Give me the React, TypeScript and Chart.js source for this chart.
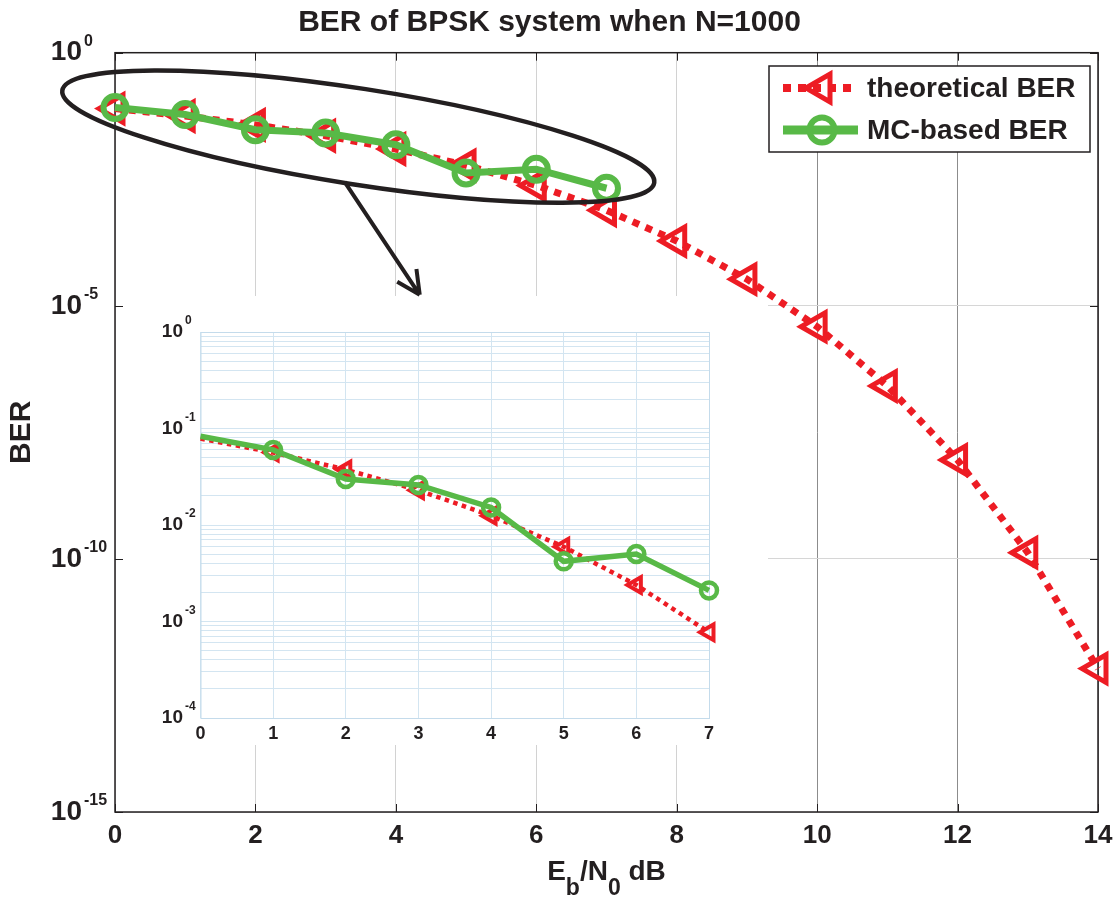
import React, { useEffect, useRef } from 'react';
import { Chart, registerables } from 'chart.js';

Chart.register(...registerables);

// ---------------- data ----------------
const ebN0 = [0, 1, 2, 3, 4, 5, 6, 7, 8, 9, 10, 11, 12, 13, 14];
const theoreticalBER = [
  0.0786, 0.0563, 0.0375, 0.0229, 0.0125, 0.00595, 0.00239, 7.73e-4,
  1.91e-4, 3.36e-5, 3.87e-6, 2.61e-7, 9.0e-9, 1.33e-10, 6.8e-13,
];
const mcEbN0 = [0, 1, 2, 3, 4, 5, 6, 7];
const mcBER = [0.083, 0.06, 0.03, 0.026, 0.0152, 0.0042, 0.005, 0.0021];

const mainXTicks = [0, 2, 4, 6, 8, 10, 12, 14];
const mainYTicks = [1, 1e-5, 1e-10, 1e-15];
const insetXTicks = [0, 1, 2, 3, 4, 5, 6, 7];
const insetYTicks = [1, 1e-1, 1e-2, 1e-3, 1e-4];

const titleText = 'BER of BPSK system when N=1000';
const yTitleText = 'BER';
const seriesLabels = ['theoretical BER', 'MC-based BER'];

// ---------------- style / layout ----------------
const FONT = "'Liberation Sans', Arial, Helvetica, sans-serif";
const INK = '#231f20';
const RED = '#ed1c24';
const GREEN = '#58b947';
const INSET_GRID = '#d3e5f1';

const W = 1119;
const H = 898;
const INSET_BOX = { left: 116, top: 296, right: 768, bottom: 745 };
const INSET_CANVAS = { left: 140, top: 296, width: 628, height: 449 };

// annotation (ellipse + arrow) in data coordinates
const ELLIPSE_END_A = { x: -0.75, y: 0.18 };
const ELLIPSE_END_B = { x: 7.68, y: 0.0027 };
const ELLIPSE_SEMI_MINOR = 48;
const ARROW_FROM = { x: 3.27, y: 0.0028 };
const ARROW_TO = { x: 4.34, y: 1.65e-5 };

function drawPow10(ctx: CanvasRenderingContext2D, value: number, xRight: number, y: number, big: number, small: number, rise: number) {
  const exp = Math.round(Math.log10(value)) || 0;
  ctx.fillStyle = INK;
  ctx.font = `bold ${big}px ${FONT}`;
  ctx.textAlign = 'right';
  ctx.textBaseline = 'middle';
  ctx.fillText('10', xRight, y);
  ctx.font = `bold ${small}px ${FONT}`;
  ctx.textAlign = 'left';
  ctx.textBaseline = 'alphabetic';
  ctx.fillText(String(exp), xRight + 2, y - rise);
}

function drawTriangleLeft(ctx: CanvasRenderingContext2D, cx: number, cy: number, r: number) {
  ctx.beginPath();
  ctx.moveTo(cx - r, cy);
  ctx.lineTo(cx + r / 2, cy - (r * Math.sqrt(3)) / 2);
  ctx.lineTo(cx + r / 2, cy + (r * Math.sqrt(3)) / 2);
  ctx.closePath();
}

const mainDecor = {
  id: 'mainDecor',
  beforeDatasetsDraw(chart: any) {
    const { ctx, chartArea: a } = chart;
    const xs = chart.scales.x;
    const ys = chart.scales.y;
    ctx.save();
    ctx.fillStyle = '#ffffff';
    ctx.fillRect(INSET_BOX.left, INSET_BOX.top, INSET_BOX.right - INSET_BOX.left, INSET_BOX.bottom - INSET_BOX.top);
    ctx.strokeStyle = INK;
    ctx.lineWidth = 1;
    ctx.beginPath();
    for (const v of mainXTicks) {
      const px = Math.round(xs.getPixelForValue(v)) + 0.5;
      ctx.moveTo(px, a.bottom);
      ctx.lineTo(px, a.bottom - 8);
      ctx.moveTo(px, a.top);
      ctx.lineTo(px, a.top + 8);
    }
    for (const v of mainYTicks) {
      const py = Math.round(ys.getPixelForValue(v)) + 0.5;
      ctx.moveTo(a.left, py);
      ctx.lineTo(a.left + 8, py);
      ctx.moveTo(a.right, py);
      ctx.lineTo(a.right - 8, py);
    }
    ctx.stroke();
    ctx.lineWidth = 1.5;
    ctx.strokeRect(a.left, a.top, a.right - a.left, a.bottom - a.top);
    ctx.restore();
  },
  afterDatasetsDraw(chart: any) {
    const { ctx } = chart;
    const xs = chart.scales.x;
    const ys = chart.scales.y;
    const p1 = { x: xs.getPixelForValue(ELLIPSE_END_A.x), y: ys.getPixelForValue(ELLIPSE_END_A.y) };
    const p2 = { x: xs.getPixelForValue(ELLIPSE_END_B.x), y: ys.getPixelForValue(ELLIPSE_END_B.y) };
    const cx = (p1.x + p2.x) / 2;
    const cy = (p1.y + p2.y) / 2;
    const semiMajor = Math.hypot(p2.x - p1.x, p2.y - p1.y) / 2;
    const rot = Math.atan2(p2.y - p1.y, p2.x - p1.x);
    ctx.save();
    ctx.strokeStyle = INK;
    ctx.lineWidth = 4.5;
    ctx.beginPath();
    ctx.ellipse(cx, cy, semiMajor, ELLIPSE_SEMI_MINOR, rot, 0, Math.PI * 2);
    ctx.stroke();
    const s = { x: xs.getPixelForValue(ARROW_FROM.x), y: ys.getPixelForValue(ARROW_FROM.y) };
    const t = { x: xs.getPixelForValue(ARROW_TO.x), y: ys.getPixelForValue(ARROW_TO.y) };
    const ang = Math.atan2(t.y - s.y, t.x - s.x);
    ctx.lineWidth = 4;
    ctx.beginPath();
    ctx.moveTo(s.x, s.y);
    ctx.lineTo(t.x, t.y);
    for (const d of [-0.46, 0.46]) {
      ctx.moveTo(t.x, t.y);
      ctx.lineTo(t.x - 26 * Math.cos(ang + d), t.y - 26 * Math.sin(ang + d));
    }
    ctx.stroke();
    ctx.restore();
  },
  afterDraw(chart: any) {
    const { ctx, chartArea: a } = chart;
    const ys = chart.scales.y;
    ctx.save();
    // y tick labels
    for (const v of mainYTicks) {
      drawPow10(ctx, v, 82, ys.getPixelForValue(v), 28, 16, 7);
    }
    // x title with subscripts
    const parts: [string, boolean][] = [['E', false], ['b', true], ['/N', false], ['0', true], [' dB', false]];
    const mainF = `bold 28px ${FONT}`;
    const subF = `bold 23px ${FONT}`;
    let total = 0;
    for (const [txt, sub] of parts) {
      ctx.font = sub ? subF : mainF;
      total += ctx.measureText(txt).width;
    }
    let x = (a.left + a.right) / 2 - total / 2;
    ctx.fillStyle = INK;
    ctx.textAlign = 'left';
    ctx.textBaseline = 'alphabetic';
    for (const [txt, sub] of parts) {
      ctx.font = sub ? subF : mainF;
      ctx.fillText(txt, x, sub ? 895 : 880);
      x += ctx.measureText(txt).width;
    }
    // legend
    const box = { left: 769, top: 66, right: 1090, bottom: 152 };
    ctx.fillStyle = '#ffffff';
    ctx.fillRect(box.left, box.top, box.right - box.left, box.bottom - box.top);
    ctx.strokeStyle = INK;
    ctx.lineWidth = 1.5;
    ctx.strokeRect(box.left, box.top, box.right - box.left, box.bottom - box.top);
    const rows = [88, 130];
    const ds = chart.data.datasets;
    // theoretical sample
    ctx.strokeStyle = RED;
    ctx.lineWidth = 8;
    ctx.setLineDash([8, 7]);
    ctx.beginPath();
    ctx.moveTo(783, rows[0]);
    ctx.lineTo(858, rows[0]);
    ctx.stroke();
    ctx.setLineDash([]);
    ctx.lineWidth = 5;
    ctx.lineJoin = 'miter';
    drawTriangleLeft(ctx, 822, rows[0], 16);
    ctx.stroke();
    // MC sample
    ctx.strokeStyle = GREEN;
    ctx.lineWidth = 9;
    ctx.beginPath();
    ctx.moveTo(783, rows[1]);
    ctx.lineTo(858, rows[1]);
    ctx.stroke();
    ctx.lineWidth = 6;
    ctx.beginPath();
    ctx.arc(822, rows[1], 12.5, 0, Math.PI * 2);
    ctx.stroke();
    ctx.fillStyle = INK;
    ctx.font = `bold 28px ${FONT}`;
    ctx.textAlign = 'left';
    ctx.textBaseline = 'middle';
    ctx.fillText(ds[0].label, 867, rows[0] + 1);
    ctx.fillText(ds[1].label, 867, rows[1] + 1);
    ctx.restore();
  },
};

const insetDecor = {
  id: 'insetDecor',
  beforeDatasetsDraw(chart: any) {
    const { ctx, chartArea: a } = chart;
    ctx.save();
    ctx.strokeStyle = '#c4dbeb';
    ctx.lineWidth = 1;
    ctx.strokeRect(a.left + 0.5, a.top + 0.5, a.right - a.left, a.bottom - a.top);
    ctx.restore();
  },
  afterDraw(chart: any) {
    const { ctx } = chart;
    const ys = chart.scales.y;
    ctx.save();
    for (const v of insetYTicks) {
      drawPow10(ctx, v, 43, ys.getPixelForValue(v), 19, 12, 8);
    }
    ctx.restore();
  },
};

function insetMinorTicks() {
  const out: number[] = [];
  for (let k = -4; k < 0; k++) {
    for (let m = 1; m <= 9; m++) out.push(Number((m * Math.pow(10, k)).toPrecision(3)));
  }
  out.push(1);
  return out;
}

export default function App() {
  const mainRef = useRef<HTMLCanvasElement>(null);
  const insetRef = useRef<HTMLCanvasElement>(null);

  useEffect(() => {
    const main = new Chart(mainRef.current as HTMLCanvasElement, {
      type: 'line',
      data: {
        datasets: [
          {
            label: seriesLabels[0],
            data: ebN0.map((x, i) => ({ x, y: theoreticalBER[i] })),
            borderColor: RED,
            borderWidth: 7,
            borderDash: [7, 7],
            pointStyle: 'triangle',
            pointRotation: -90,
            pointRadius: 16,
            pointBorderWidth: 5,
            pointBorderColor: RED,
            pointBackgroundColor: 'rgba(0,0,0,0)',
            tension: 0,
            order: 1,
            clip: false,
          } as any,
          {
            label: seriesLabels[1],
            data: mcEbN0.map((x, i) => ({ x, y: mcBER[i] })),
            borderColor: GREEN,
            borderWidth: 7,
            pointStyle: 'circle',
            pointRadius: 11.5,
            pointBorderWidth: 6,
            pointBorderColor: GREEN,
            pointBackgroundColor: 'rgba(0,0,0,0)',
            tension: 0,
            order: 0,
            clip: false,
          } as any,
        ],
      },
      options: {
        responsive: false,
        animation: false,
        devicePixelRatio: 1,
        events: [],
        layout: { padding: { left: 0, right: 20, top: 0, bottom: 0 } },
        plugins: {
          legend: { display: false },
          tooltip: { enabled: false },
          title: {
            display: true,
            text: titleText,
            color: INK,
            font: { family: FONT, size: 30, weight: 'bold', lineHeight: 1.2 },
            padding: { top: 5, bottom: 11.7 },
          },
        },
        scales: {
          x: {
            type: 'linear',
            min: 0,
            max: 14,
            afterBuildTicks: (s: any) => {
              s.ticks = mainXTicks.map((v) => ({ value: v }));
            },
            afterFit: (s: any) => {
              s.height = 86;
              s.paddingLeft = 0;
              s.paddingRight = 0;
            },
            ticks: {
              color: INK,
              font: { family: FONT, size: 26, weight: 'bold' },
              padding: 8,
              maxRotation: 0,
              autoSkip: false,
            },
            grid: {
              drawTicks: false,
              lineWidth: 1,
              color: (c: any) => (c.tick && c.tick.value >= 10 ? '#8c8c8c' : '#d2d2d2'),
            },
            border: { display: false },
          },
          y: {
            type: 'logarithmic',
            min: 1e-15,
            max: 1,
            afterBuildTicks: (s: any) => {
              s.ticks = mainYTicks.map((v) => ({ value: v }));
            },
            afterFit: (s: any) => {
              s.width = 115;
              s.paddingTop = 0;
              s.paddingBottom = 0;
            },
            ticks: { display: false },
            grid: { drawTicks: false, lineWidth: 1, color: '#d6d6d6' },
            border: { display: false },
            title: {
              display: true,
              text: yTitleText,
              color: INK,
              font: { family: FONT, size: 30, weight: 'bold', lineHeight: 1.2 },
              padding: { top: 3.5, bottom: 0 },
            },
          },
        },
      } as any,
      plugins: [mainDecor],
    });

    const inset = new Chart(insetRef.current as HTMLCanvasElement, {
      type: 'line',
      data: {
        datasets: [
          {
            label: seriesLabels[0],
            data: mcEbN0.map((x) => ({ x, y: theoreticalBER[x] })),
            borderColor: RED,
            borderWidth: 4.5,
            borderDash: [4.5, 4.5],
            pointStyle: 'triangle',
            pointRotation: -90,
            pointRadius: (c: any) => (c.dataIndex === 0 ? 0 : 9),
            pointBorderWidth: 4,
            pointBorderColor: RED,
            pointBackgroundColor: 'rgba(0,0,0,0)',
            tension: 0,
            order: 1,
            clip: false,
          } as any,
          {
            label: seriesLabels[1],
            data: mcEbN0.map((x, i) => ({ x, y: mcBER[i] })),
            borderColor: GREEN,
            borderWidth: 5.5,
            pointStyle: 'circle',
            pointRadius: (c: any) => (c.dataIndex === 0 ? 0 : 8),
            pointBorderWidth: 4.5,
            pointBorderColor: GREEN,
            pointBackgroundColor: 'rgba(0,0,0,0)',
            tension: 0,
            order: 0,
            clip: false,
          } as any,
        ],
      },
      options: {
        responsive: false,
        animation: false,
        devicePixelRatio: 1,
        events: [],
        layout: { padding: { left: 0, right: 59, top: 36, bottom: 0 } },
        plugins: { legend: { display: false }, tooltip: { enabled: false }, title: { display: false } },
        scales: {
          x: {
            type: 'linear',
            min: 0,
            max: 7,
            afterBuildTicks: (s: any) => {
              s.ticks = insetXTicks.map((v) => ({ value: v }));
            },
            afterFit: (s: any) => {
              s.height = 27;
              s.paddingLeft = 0;
              s.paddingRight = 0;
            },
            ticks: {
              color: INK,
              font: { family: FONT, size: 18, weight: 'bold' },
              padding: 5,
              maxRotation: 0,
              autoSkip: false,
            },
            grid: { drawTicks: false, lineWidth: 1, color: INSET_GRID },
            border: { display: false },
          },
          y: {
            type: 'logarithmic',
            min: 1e-4,
            max: 1,
            afterBuildTicks: (s: any) => {
              s.ticks = insetMinorTicks().map((v) => ({ value: v }));
            },
            afterFit: (s: any) => {
              s.width = 60.5;
              s.paddingTop = 0;
              s.paddingBottom = 0;
            },
            ticks: { display: false },
            grid: { drawTicks: false, lineWidth: 1, color: INSET_GRID },
            border: { display: false },
          },
        },
      } as any,
      plugins: [insetDecor],
    });

    return () => {
      main.destroy();
      inset.destroy();
    };
  }, []);

  return (
    <div style={{ position: 'fixed', left: 0, top: 0, width: W, height: H, background: '#ffffff' }}>
      <canvas
        ref={mainRef}
        width={W}
        height={H}
        style={{ position: 'absolute', left: 0, top: 0, width: W, height: H }}
      />
      <canvas
        ref={insetRef}
        width={INSET_CANVAS.width}
        height={INSET_CANVAS.height}
        style={{
          position: 'absolute',
          left: INSET_CANVAS.left,
          top: INSET_CANVAS.top,
          width: INSET_CANVAS.width,
          height: INSET_CANVAS.height,
        }}
      />
    </div>
  );
}
